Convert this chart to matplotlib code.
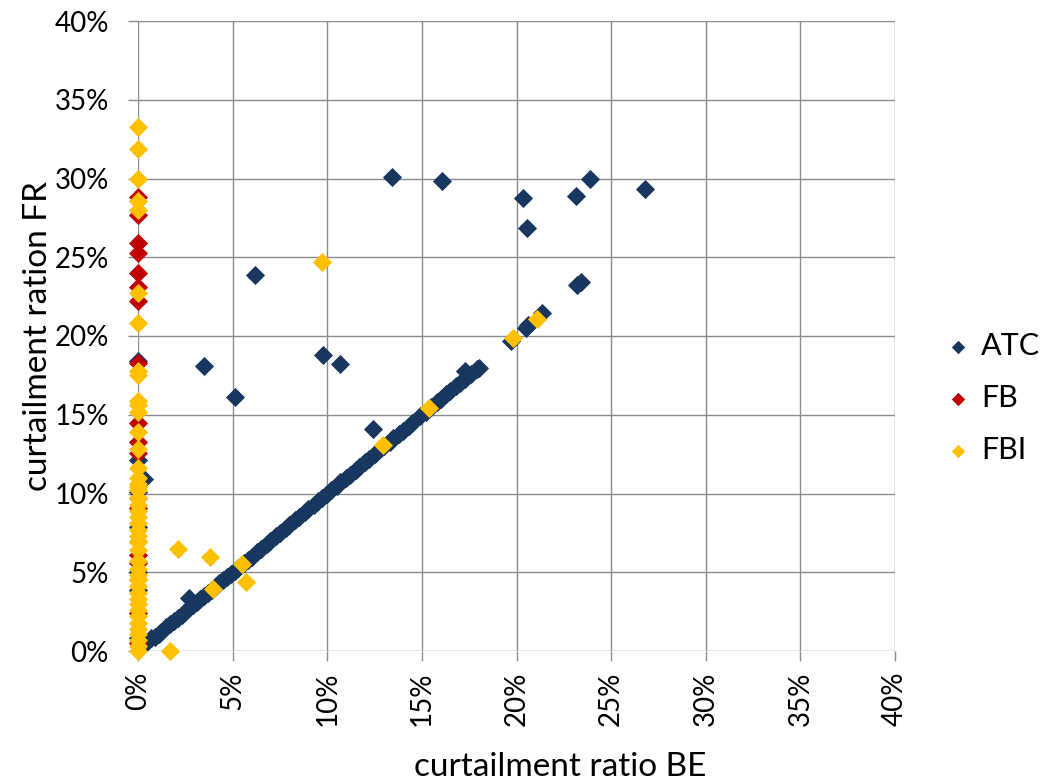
import matplotlib
matplotlib.use("Agg")
import matplotlib.pyplot as plt
from matplotlib.ticker import MultipleLocator, FuncFormatter

plt.rcParams['font.family'] = ['Lato', 'DejaVu Sans']

# curtailment ratios in percent, BE on x, FR on y
atc_x = [0.3, 0.5, 0.7, 0.9, 1.1, 1.2, 1.5, 1.7, 1.9, 2.1, 2.3, 2.5, 2.7, 2.7,
         2.9, 3.1, 3.3, 3.5, 3.7, 3.9, 4.1, 4.3, 4.5, 4.7, 4.9, 5.1, 5.3, 5.6,
         5.8, 6.0, 6.3, 6.5, 6.8, 7.0, 7.3, 7.5, 7.8, 8.0, 8.3, 8.5, 8.8, 9.0,
         9.3, 9.5, 9.7, 10.0, 10.2, 10.5, 10.7, 11.0, 11.2, 11.5, 11.7, 12.0,
         12.2, 12.5, 12.8, 13.0, 13.3, 13.5, 13.8, 14.0, 14.3, 14.5, 14.9,
         15.2, 15.5, 15.8, 16.0, 16.3, 16.5, 16.8, 17.0, 17.3, 17.3, 17.6,
         17.9, 18.0,
         19.7, 20.5, 20.6, 21.35, 23.2, 23.4,
         13.4, 16.05, 20.35, 20.55, 23.15, 23.9, 26.8, 6.2, 3.5, 5.1, 9.8,
         10.7, 12.4,
         0.0, 0.0, 0.3, 0.0, 0.0, 0.0, 0.0, 0.0]
atc_y = [0.5, 0.6, 0.8, 0.9, 1.1, 1.2, 1.5, 1.7, 1.9, 2.1, 2.3, 2.5, 2.7, 3.35,
         2.9, 3.1, 3.3, 3.5, 3.7, 3.9, 4.1, 4.3, 4.5, 4.7, 4.9, 5.1, 5.3, 5.6,
         5.8, 6.0, 6.3, 6.5, 6.8, 7.0, 7.3, 7.5, 7.8, 8.0, 8.3, 8.5, 8.8, 9.0,
         9.3, 9.5, 9.7, 10.0, 10.2, 10.5, 10.7, 11.0, 11.2, 11.5, 11.7, 12.0,
         12.2, 12.5, 12.8, 13.0, 13.3, 13.5, 13.8, 14.0, 14.3, 14.5, 14.9,
         15.2, 15.5, 15.8, 16.0, 16.3, 16.5, 16.8, 17.0, 17.3, 17.75, 17.6,
         17.9, 18.0,
         19.7, 20.5, 20.7, 21.45, 23.25, 23.45,
         30.1, 29.85, 28.75, 26.85, 28.9, 29.95, 29.35, 23.85, 18.1, 16.15,
         18.8, 18.2, 14.1,
         18.4, 12.1, 10.9, 10.1, 7.9, 5.0, 3.9, 0.8]

fb_x = [0.0] * 17
fb_y = [28.8, 27.7, 25.9, 25.3, 24.0, 23.1, 22.2, 18.3, 14.5, 13.3, 12.6,
        9.1, 9.7, 6.1, 5.6, 2.4, 0.5]

fbi_x = [0.0] * 46 + [9.7, 2.1, 3.8, 5.5, 5.7, 3.95, 1.7, 12.95, 15.4,
                      19.8, 21.1]
fbi_y = [33.3, 31.9, 29.95, 28.6, 28.0, 22.7, 20.8, 17.8, 17.5, 15.9, 15.6,
         15.2, 13.9, 12.8, 11.6, 11.0, 10.6, 10.2, 9.7, 9.3, 8.9, 8.5, 8.1,
         7.7, 7.3, 6.9, 6.4, 5.7, 5.2, 4.8, 4.5, 4.1, 3.7, 3.3, 3.0, 2.6, 2.2,
         1.8, 1.4, 1.1, 0.7, 0.3, 0.0, 4.6, 7.0, 10.4,
         24.7, 6.5, 6.0, 5.5, 4.4, 3.95, 0.0, 13.05, 15.4, 19.85, 21.1]

series = ['ATC', 'FB', 'FBI']
colors = ['#17375E', '#C00000', '#FFC000']

fig = plt.figure(figsize=(10.57, 7.84), dpi=100)
ax = fig.add_axes([138 / 1057, 1 - 651 / 784, 757 / 1057, 630 / 784])

for name, xs, ys, c in zip(series, [atc_x, fb_x, fbi_x],
                           [atc_y, fb_y, fbi_y], colors):
    ax.scatter(xs, ys, s=95, marker='D', color=c, linewidths=0,
               label=name, clip_on=False, zorder=3)

ax.set_xlim(0, 40)
ax.set_ylim(0, 40)
ax.xaxis.set_major_locator(MultipleLocator(5))
ax.yaxis.set_major_locator(MultipleLocator(5))
pct = FuncFormatter(lambda v, p: '%d%%' % round(v))
ax.xaxis.set_major_formatter(pct)
ax.yaxis.set_major_formatter(pct)

ax.grid(True, color='#8C8C8C', linewidth=1.0, zorder=0)
ax.set_axisbelow(True)
for s in ax.spines.values():
    s.set_visible(False)
ax.tick_params(axis='both', direction='out', length=7, width=1.0,
               color='#8C8C8C', labelsize=20, labelcolor='black')
ax.tick_params(axis='x', pad=8, labelrotation=90)
ax.tick_params(axis='y', pad=14)

ax.set_xlabel('curtailment ratio BE', fontsize=24)
ax.set_ylabel('curtailment ration FR', fontsize=24)
ax.xaxis.set_label_coords((560 - 138) / 757, -0.16)
ax.yaxis.set_label_coords(-0.112, 0.5)

fig.legend(loc='center left', bbox_to_anchor=(952 / 1057, 1 - 398 / 784),
           frameon=False, fontsize=22, markerscale=0.7, handlelength=0.4,
           handletextpad=0.55, labelspacing=0.8, borderpad=0,
           borderaxespad=0, scatterpoints=1)

fig.savefig('out.png', dpi=100)
